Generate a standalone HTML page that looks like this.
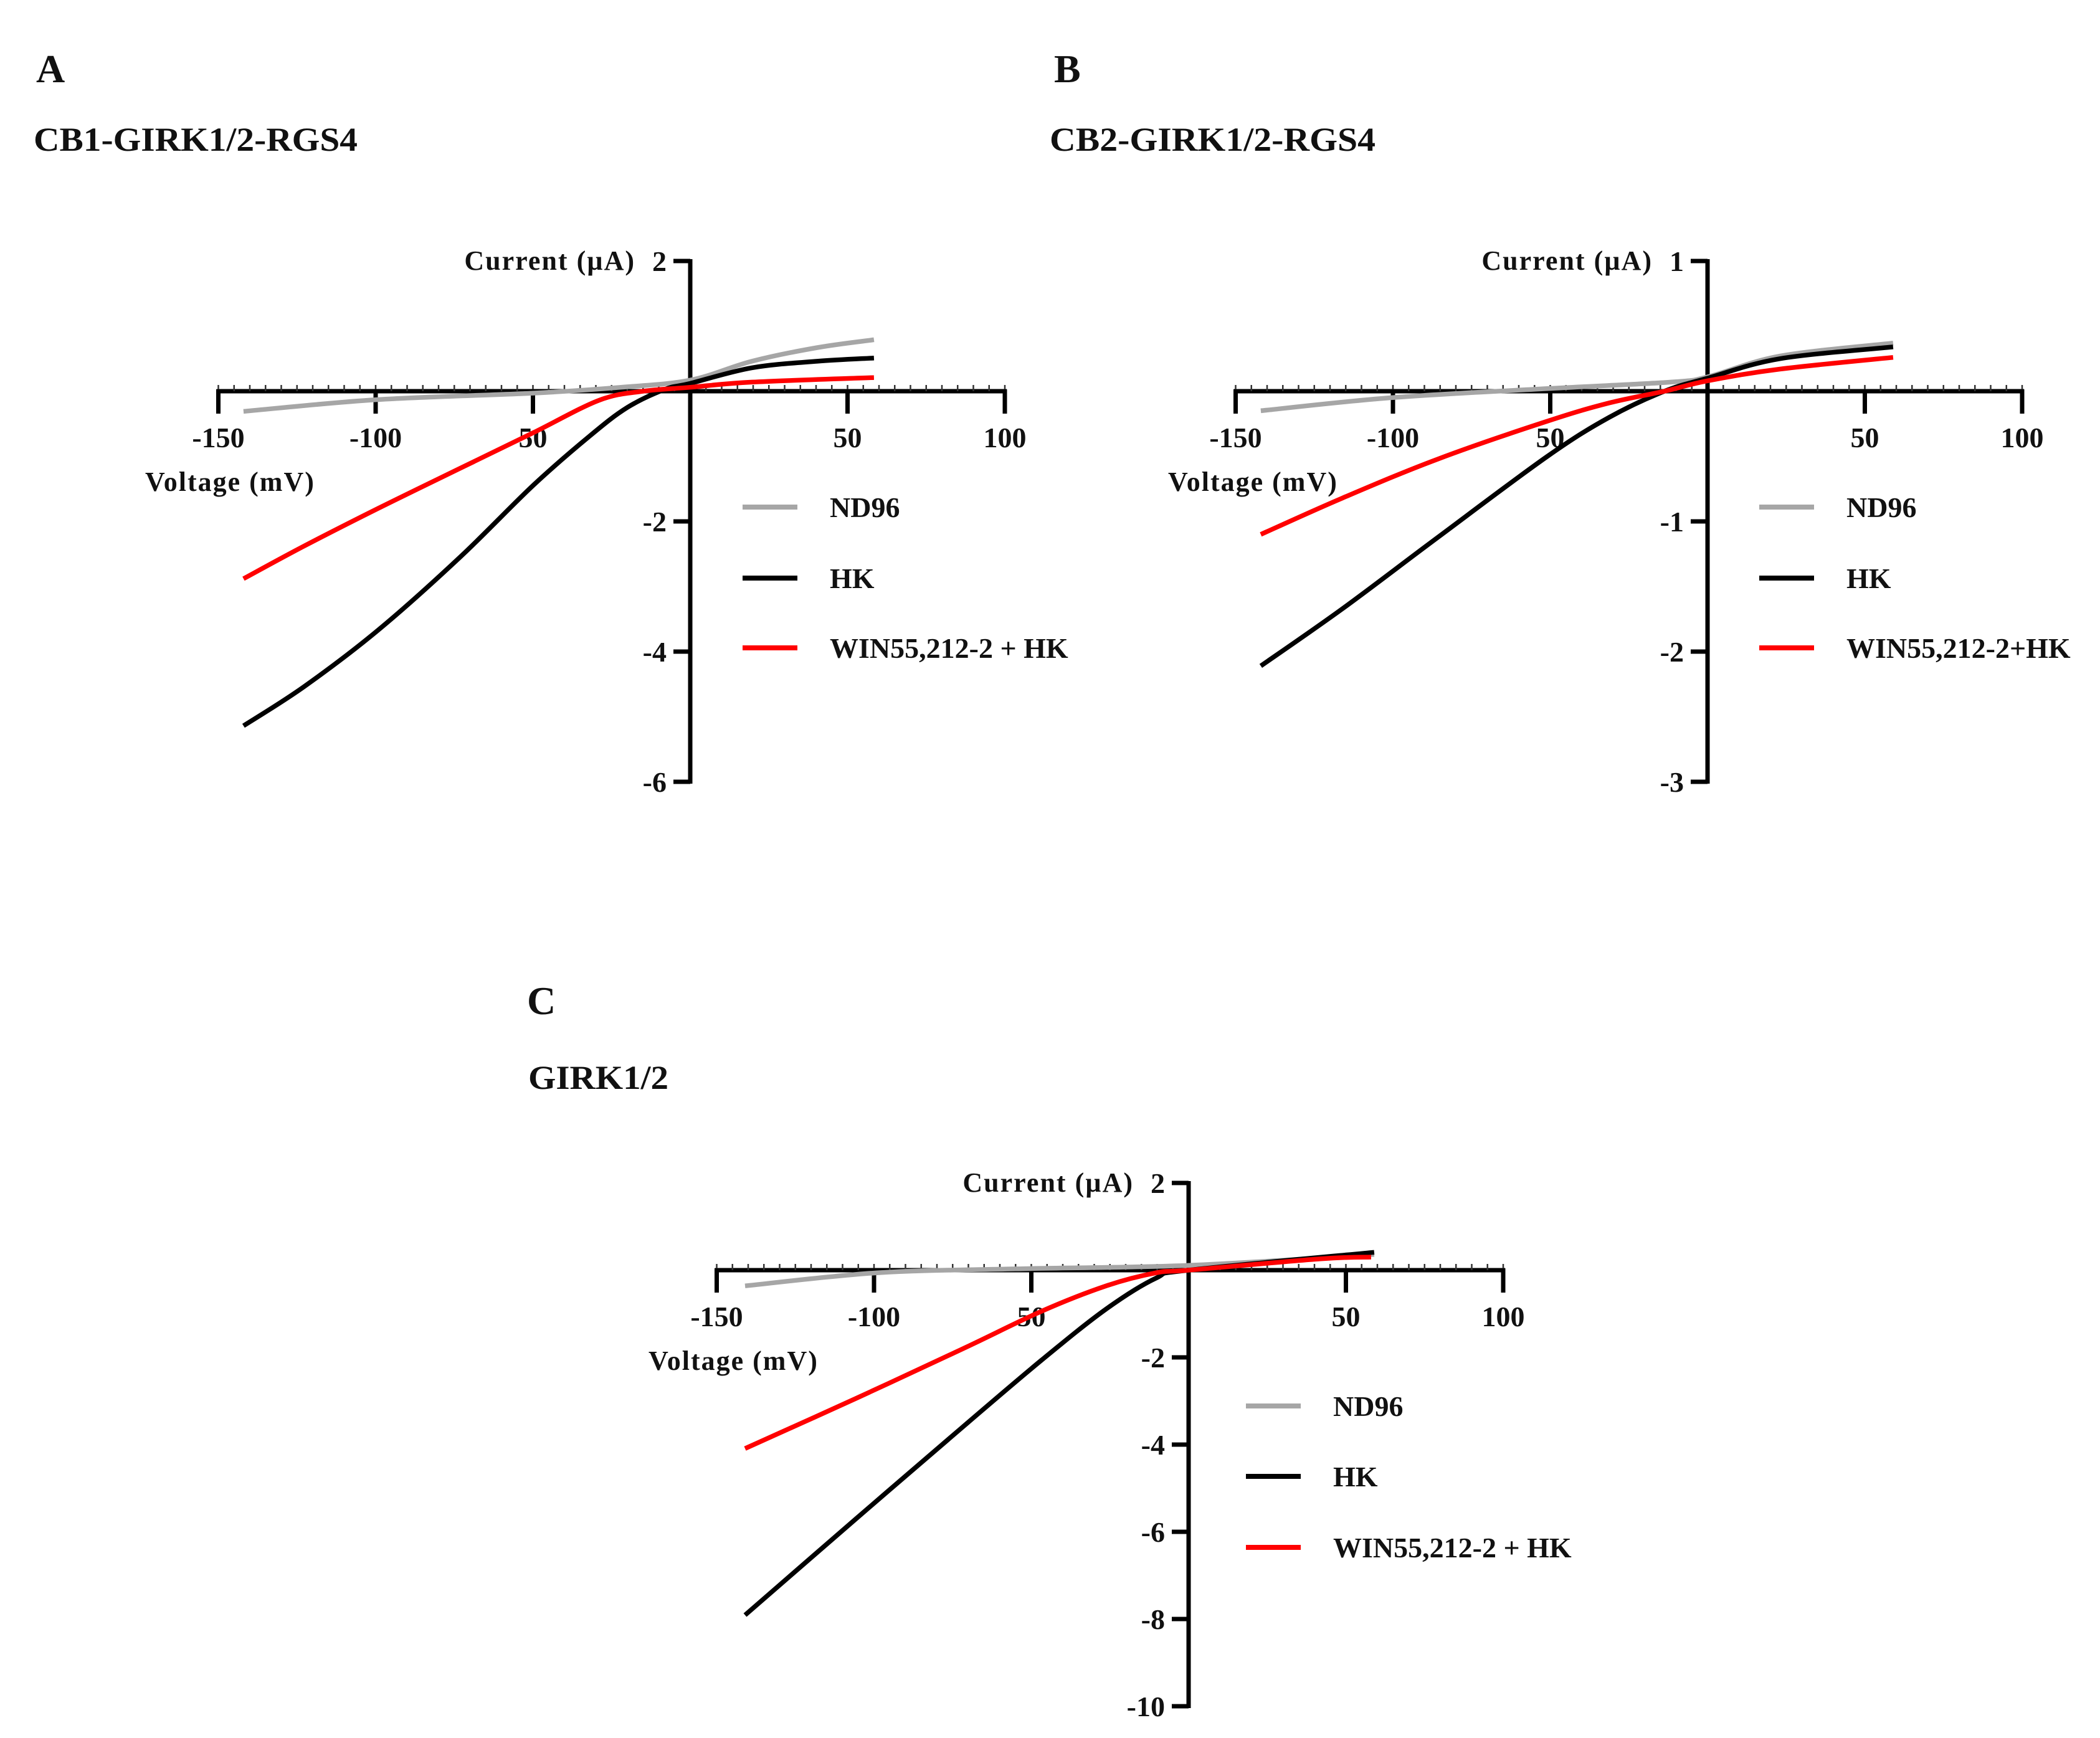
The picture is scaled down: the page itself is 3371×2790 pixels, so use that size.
<!DOCTYPE html>
<html><head><meta charset="utf-8">
<style>
html,body{margin:0;padding:0;background:#fff;}
svg{display:block;}
text{font-family:"Liberation Serif",serif;font-weight:bold;fill:#111;}
</style></head>
<body>
<svg id="fig" xmlns="http://www.w3.org/2000/svg" width="3371" height="2790" viewBox="0 0 3371 2790">
  <rect width="3371" height="2790" fill="#fff"/>
  <text x="58" y="132" font-size="64">A</text>
  <text x="54" y="242" font-size="54" textLength="520" lengthAdjust="spacingAndGlyphs">CB1-GIRK1/2-RGS4</text>
  <text x="1692" y="132" font-size="64">B</text>
  <text x="1685" y="242" font-size="54" textLength="523" lengthAdjust="spacingAndGlyphs">CB2-GIRK1/2-RGS4</text>
  <text x="846" y="1628" font-size="64">C</text>
  <text x="848" y="1748" font-size="54" textLength="225" lengthAdjust="spacingAndGlyphs">GIRK1/2</text>
  <g id="pa"></g>
  <g id="pb"></g>
  <g id="pc"></g>
</svg>
<script>
// Shared x ticks
const xTicks = [-150, -100, -50, 50, 100];
const xTickLabels = ["-150", "-100", "50", "50", "100"];
const seriesNames = ["ND96", "HK", "WIN55,212-2 + HK"];
const seriesNamesB = ["ND96", "HK", "WIN55,212-2+HK"];

// Panel A data (voltage mV, current µA)
const aYTicks = [2, -2, -4, -6];
const aNd96V = [-142, -99.8, -50, -22, 0, 19.6, 40.4, 58.4];
const aNd96I = [-0.31, -0.13, -0.03, 0.06, 0.17, 0.46, 0.67, 0.79];
const aHkV = [-142, -122.8, -99.2, -73.4, -50, -32, -20, -8, 0, 19.6, 40.4, 58.4];
const aHkI = [-5.14, -4.54, -3.67, -2.56, -1.45, -0.69, -0.25, 0.03, 0.12, 0.36, 0.46, 0.51];
const aWinV = [-142, -122.8, -99.2, -73.4, -50, -29, -15, 0, 19.6, 58.4];
const aWinI = [-2.88, -2.38, -1.80, -1.19, -0.64, -0.14, 0.0, 0.06, 0.14, 0.21];

// Panel B data
const bYTicks = [1, -1, -2, -3];
const bNd96V = [-142, -100.8, -50.8, -11.7, 0, 23, 59];
const bNd96I = [-0.15, -0.05, 0.02, 0.07, 0.11, 0.27, 0.37];
const bHkV = [-142, -116, -85.6, -50.9, -31.2, -13.7, 0, 23, 59];
const bHkI = [-2.11, -1.67, -1.12, -0.50, -0.20, 0.0, 0.10, 0.25, 0.34];
const bWinV = [-142, -116, -85.6, -50.9, -31.2, -13.7, 0, 23, 59];
const bWinI = [-1.10, -0.82, -0.52, -0.23, -0.09, 0.0, 0.08, 0.17, 0.26];

// Panel C data
const cYTicks = [2, -2, -4, -6, -8, -10];
const cNd96V = [-141, -99, -55, 0, 59];
const cNd96I = [-0.36, -0.06, 0.03, 0.11, 0.36];
const cHkV = [-141, -105.7, -71.7, -46.7, -26.2, -10.3, 0, 59];
const cHkI = [-7.91, -5.70, -3.59, -2.06, -0.89, -0.18, 0.0, 0.41];
const cWinV = [-141, -105.7, -71.7, -46.7, -26.2, -10.3, 0, 42, 58];
const cWinI = [-4.09, -2.94, -1.80, -0.94, -0.36, -0.06, 0.0, 0.26, 0.30];

const NS = "http://www.w3.org/2000/svg";
function mk(tag, attrs, parent) {
  const e = document.createElementNS(NS, tag);
  for (const k in attrs) e.setAttribute(k, attrs[k]);
  parent.appendChild(e);
  return e;
}
function smoothPath(pts) {
  let d = "M" + pts[0][0].toFixed(1) + "," + pts[0][1].toFixed(1);
  for (let i = 0; i < pts.length - 1; i++) {
    const p0 = pts[Math.max(0, i - 1)], p1 = pts[i], p2 = pts[i + 1], p3 = pts[Math.min(pts.length - 1, i + 2)];
    const c1x = p1[0] + (p2[0] - p0[0]) / 6, c1y = p1[1] + (p2[1] - p0[1]) / 6;
    const c2x = p2[0] - (p3[0] - p1[0]) / 6, c2y = p2[1] - (p3[1] - p1[1]) / 6;
    d += " C" + c1x.toFixed(1) + "," + c1y.toFixed(1) + " " + c2x.toFixed(1) + "," + c2y.toFixed(1) + " " + p2[0].toFixed(1) + "," + p2[1].toFixed(1);
  }
  return d;
}

function drawPanel(g, cfg) {
  const xs = v => cfg.x0 + v * cfg.pxPerMv;
  const ys = i => cfg.y0 - i * cfg.pxPerUnit;
  const yTop = ys(cfg.yTicks[0]), yBot = ys(cfg.yTicks[cfg.yTicks.length - 1]);
  const series = [
    {v: cfg.nd96V, i: cfg.nd96I, c: "#a6a6a6", n: "nd96"},
    {v: cfg.hkV, i: cfg.hkI, c: "#000000", n: "hk"},
    {v: cfg.winV, i: cfg.winI, c: "#ff0000", n: "win"}
  ];
  const ax = mk("line", {x1: xs(-150) - 3, y1: cfg.y0, x2: xs(100) + 3, y2: cfg.y0, stroke: "#000", "stroke-width": 7}, g);
  
  
  for (let v = -150; v <= 100; v += 5) {
    const t = mk("line", {x1: xs(v), y1: cfg.y0, x2: xs(v), y2: cfg.y0 - 10, stroke: "#333", "stroke-width": 2.5}, g);
    
    
  }
  xTicks.forEach((v, k) => {
    const t = mk("line", {x1: xs(v), y1: cfg.y0 - 3, x2: xs(v), y2: cfg.y0 + 36, stroke: "#000", "stroke-width": 7}, g);
    
    
    const tx = mk("text", {x: xs(v), y: cfg.y0 + 90, "font-size": 46, "text-anchor": "middle"}, g);
    
    
    tx.textContent = xTickLabels[k];
  });
  const ay = mk("line", {x1: cfg.x0, y1: yTop - 3, x2: cfg.x0, y2: yBot + 3, stroke: "#000", "stroke-width": 7}, g);
  
  
  cfg.yTicks.forEach(t0 => {
    const t = mk("line", {x1: cfg.x0 - 27, y1: ys(t0), x2: cfg.x0, y2: ys(t0), stroke: "#000", "stroke-width": 7}, g);
    
    
    const tx = mk("text", {x: cfg.x0 - 38, y: ys(t0) + 16, "font-size": 46, "text-anchor": "end"}, g);
    
    
    tx.textContent = String(t0);
  });
  const yl = mk("text", {x: cfg.x0 - 88, y: yTop + 14, "font-size": 44, "text-anchor": "end", "letter-spacing": 2}, g);
  
  
  yl.textContent = "Current (\u00b5A)";
  const xl = mk("text", {x: cfg.xlX, y: cfg.y0 + 160, "font-size": 44, "letter-spacing": 2}, g);
  
  
  xl.textContent = "Voltage (mV)";
  series.forEach(s => {
    const pts = s.v.map((v, k) => [xs(v), ys(s.i[k])]);
    const p = mk("path", {d: smoothPath(pts), fill: "none", stroke: s.c, "stroke-width": 7.5, "stroke-linecap": "butt"}, g);
    
    
  });
  series.forEach((s, k) => {
    const y = cfg.legY[k];
    const l = mk("line", {x1: cfg.legX, y1: y, x2: cfg.legX + 88, y2: y, stroke: s.c, "stroke-width": 8}, g);
    
    
    const tx = mk("text", {x: cfg.legX + 140, y: y + 16, "font-size": 46}, g);
    
    
    tx.textContent = cfg.names[k];
  });
}

drawPanel(document.getElementById("pa"), {
  x0: 1108, pxPerMv: 5.05, y0: 628, pxPerUnit: 104.5, yTicks: aYTicks,
  nd96V: aNd96V, nd96I: aNd96I, hkV: aHkV, hkI: aHkI, winV: aWinV, winI: aWinI,
  legX: 1192, legY: [814, 928, 1040], xlX: 233, names: seriesNames
});
drawPanel(document.getElementById("pb"), {
  x0: 2741, pxPerMv: 5.05, y0: 628, pxPerUnit: 209, yTicks: bYTicks,
  nd96V: bNd96V, nd96I: bNd96I, hkV: bHkV, hkI: bHkI, winV: bWinV, winI: bWinI,
  legX: 2824, legY: [814, 928, 1040], xlX: 1875, names: seriesNamesB
});
drawPanel(document.getElementById("pc"), {
  x0: 1908, pxPerMv: 5.05, y0: 2039, pxPerUnit: 70, yTicks: cYTicks,
  nd96V: cNd96V, nd96I: cNd96I, hkV: cHkV, hkI: cHkI, winV: cWinV, winI: cWinI,
  legX: 2000, legY: [2257, 2370, 2484], xlX: 1041, names: seriesNames
});
</script>
</body></html>
